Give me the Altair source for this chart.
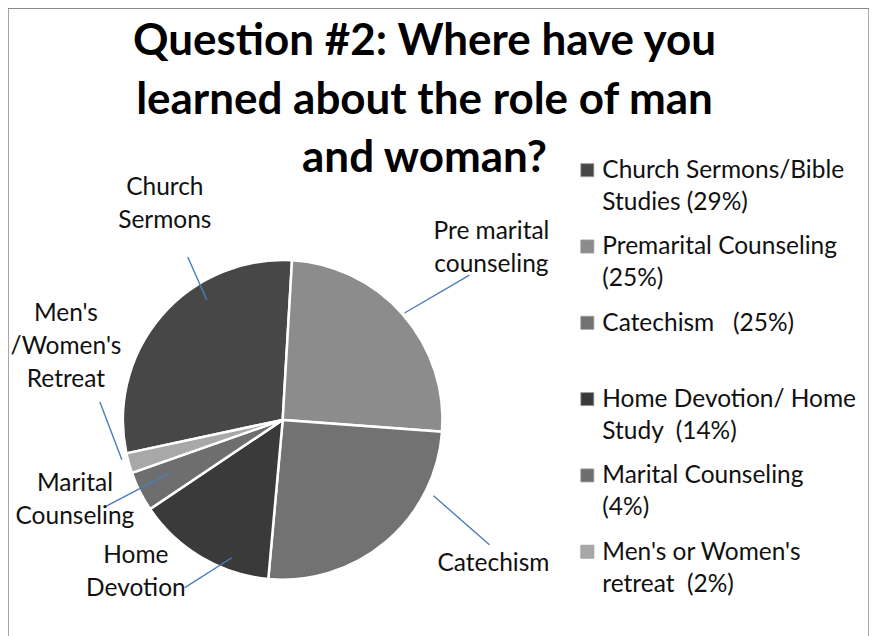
import math
import altair as alt
import pandas as pd

# ---- data ----
categories = [
    "Church Sermons/Bible Studies",
    "Premarital Counseling",
    "Catechism",
    "Home Devotion/ Home Study",
    "Marital Counseling",
    "Men's or Women's retreat",
]
percents = [29, 25, 25, 14, 4, 2]
NB = "\u00a0"
legend_labels = [
    "Church Sermons/Bible\nStudies (29%)",
    "Premarital Counseling\n(25%)",
    "Catechism" + NB * 3 + "(25%)\n ",
    "Home Devotion/ Home\nStudy" + NB * 2 + "(14%)",
    "Marital Counseling\n(4%)",
    "Men's or Women's\nretreat" + NB * 2 + "(2%)",
]
callout_texts = [
    "Church\nSermons",
    "Pre marital\ncounseling",
    "Catechism",
    "Home\nDevotion",
    "Marital\nCounseling",
    "Men's\n/Women's\nRetreat",
]
colors = ["#474747", "#8c8c8c", "#727272", "#3a3a3a", "#6e6e6e", "#a8a8a8"]
title_lines = [
    "Question #2: Where have you",
    "learned about the role of man",
    "and woman?",
]

# ---- layout (pixels in plot frame) ----
W, H = 862, 630
CX, CY, R = 275, 412, 160
START = math.radians(257.9)
FONT = "Lato, sans-serif"
FS = 24.5

# callout label anchors and leader lines
callout_pos = [(157, 187), (484, 231), (486, 563), (128, 555), (67, 483), (58, 313)]
leaders = [
    ((180, 249), (199, 292)),
    ((462, 267), (397, 305)),
    ((426, 488), (482, 537)),
    ((177, 580), (224, 550)),
    ((97, 499), (162, 465)),
    ((92, 394), (114, 452)),
]

df = pd.DataFrame({
    "cat": categories,
    "pct": percents,
    "order": list(range(len(categories))),
    "legend": [s.split("\n") for s in legend_labels],
})

color = alt.Color("cat:N", scale=alt.Scale(domain=categories, range=colors), legend=None)
ident_x = alt.Scale(domain=[0, W], range=[0, W])
ident_y = alt.Scale(domain=[0, H], range=[0, H])

pie = alt.Chart(df).mark_arc(radius=R, stroke="white", strokeWidth=2.5).encode(
    theta=alt.Theta("pct:Q", stack=True, scale=alt.Scale(range=[START, START + 2 * math.pi])),
    order=alt.Order("order:Q"),
    color=color,
    x=alt.value(CX),
    y=alt.value(CY),
)

lead_df = pd.DataFrame({
    "x": [a[0] for a, b in leaders], "y": [a[1] for a, b in leaders],
    "x2": [b[0] for a, b in leaders], "y2": [b[1] for a, b in leaders],
})
lead = alt.Chart(lead_df).mark_rule(color="#4a7ebb", strokeWidth=1.4).encode(
    x=alt.X("x:Q", scale=ident_x, axis=None),
    y=alt.Y("y:Q", scale=ident_y, axis=None),
    x2="x2:Q", y2="y2:Q",
)

call_df = pd.DataFrame({
    "t": [s.split("\n") for s in callout_texts],
    "x": [p[0] for p in callout_pos],
    "y": [p[1] for p in callout_pos],
})
callouts = alt.Chart(call_df).mark_text(
    font=FONT, fontSize=FS, align="center", baseline="alphabetic", lineHeight=33, color="#111"
).encode(
    x=alt.X("x:Q", scale=ident_x, axis=None),
    y=alt.Y("y:Q", scale=ident_y, axis=None),
    text="t",
)

leg_y = alt.Y("cat:N", sort=categories, scale=alt.Scale(type="point", domain=categories, range=[162, 544], padding=0), axis=None)
leg_sq = alt.Chart(df).mark_square(size=170, opacity=1, stroke="#999", strokeWidth=0.8).encode(
    x=alt.value(580), y=leg_y, color=color,
)
leg_txt = alt.Chart(df).mark_text(
    font=FONT, fontSize=FS, align="left", baseline="alphabetic", lineHeight=32, dy=8, color="#111"
).encode(
    x=alt.value(595), y=leg_y, text="legend",
)

title_df = pd.DataFrame({"t": title_lines, "i": list(range(len(title_lines)))})
title = alt.Chart(title_df).mark_text(
    font=FONT, fontSize=44, fontWeight="bold", align="center", baseline="alphabetic", color="#000"
).encode(
    x=alt.value(417),
    y=alt.Y("i:O", scale=alt.Scale(type="point", domain=[0, 1, 2], range=[47, 164], padding=0), axis=None),
    text="t",
)

chart = alt.layer(pie, lead, callouts, leg_sq, leg_txt, title).resolve_scale(
    y="independent", x="independent"
).properties(
    width=W, height=H, autosize=alt.AutoSizeParams(type="none"), padding=0, background="white"
).configure_view(stroke="#8a8a8a", strokeWidth=1.5)

chart.save("out.html", embed_options={"renderer": "svg", "actions": False})
